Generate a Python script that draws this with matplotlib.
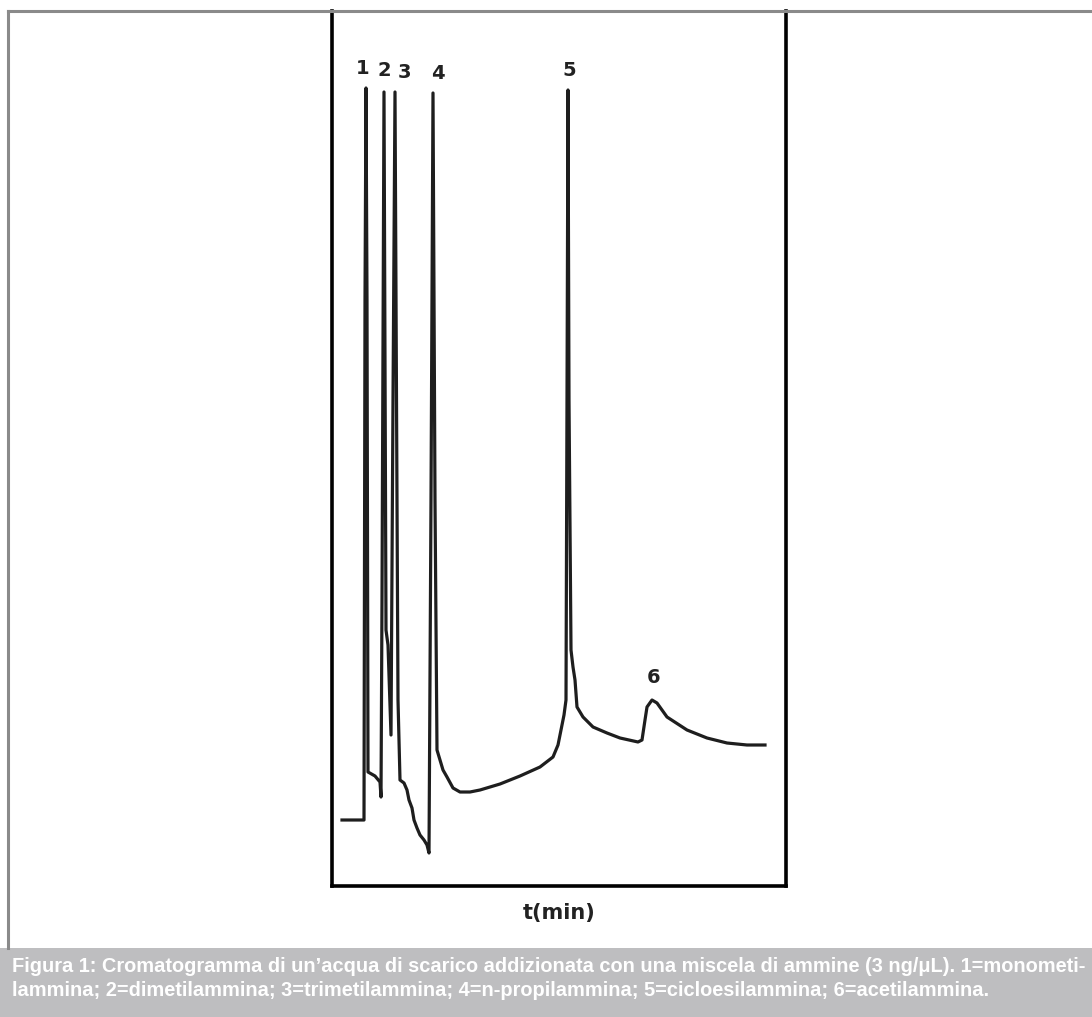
import matplotlib.pyplot as plt
from matplotlib.lines import Line2D
from matplotlib.patches import Rectangle

# chromatogram trace (time in min, detector signal in a.u.)
time = [1.0, 3.2, 3.3, 3.4, 3.5, 3.6, 4.3, 4.8, 4.9, 5.0, 5.2, 5.4, 5.6, 5.9,
        6.1, 6.3, 6.5, 6.6, 6.8, 7.2, 7.5, 7.7, 8.0, 8.2, 8.5, 8.8, 9.2, 9.5,
        9.7, 9.9, 10.1, 10.3, 10.5, 10.8, 11.1, 11.5, 12.1, 12.8, 13.8, 14.8,
        16.8, 18.8, 20.8, 22.1, 22.6, 22.9, 23.2, 23.4, 23.5, 23.6, 23.7,
        23.9, 24.1, 24.3, 24.5, 25.1, 26.1, 27.5, 28.8, 30.6, 31.0, 31.3,
        31.5, 32.0, 32.5, 33.5, 35.5, 37.5, 39.5, 41.5, 43.3]
signal = [66, 66, 586, 798, 586, 114, 110, 104, 89, 286, 794, 256, 241, 151,
          486, 794, 386, 186, 106, 103, 96, 86, 78, 66, 58, 51, 46, 41, 33,
          386, 793, 386, 136, 126, 116, 109, 98, 94, 94, 96, 102, 110, 119,
          129, 141, 156, 171, 186, 486, 796, 486, 236, 219, 206, 179, 169, 159,
          153, 148, 144, 146, 166, 179, 186, 183, 169, 156, 148, 143, 141, 141]

peak_ids = ['1', '2', '3', '4', '5', '6']
label_time = [3.1, 5.2, 7.2, 10.6, 23.7, 32.2]
label_sig = [808, 806, 804, 803, 806, 199]

caption_1 = ("Figura 1: Cromatogramma di un\u2019acqua di scarico addizionata con una miscela "
             "di ammine (3 ng/\u03bcL). 1=monometi-")
caption_2 = ("lammina; 2=dimetilammina; 3=trimetilammina; 4=n-propilammina; "
             "5=cicloesilammina; 6=acetilammina.")

fig = plt.figure(figsize=(10.92, 10.17), dpi=100)

# outer frame (top + left) and caption band
fig.add_artist(Line2D([8 / 1092, 1.0], [1 - 11 / 1017] * 2, color='#8a8a8a', lw=2.2))
fig.add_artist(Line2D([8 / 1092] * 2, [1 - 11 / 1017, 1 - 948 / 1017], color='#8a8a8a', lw=2.2))
fig.add_artist(Rectangle((0, 0), 1, 1 - 948 / 1017, transform=fig.transFigure,
                         color='#bebec0', lw=0))
cap1 = fig.text(12 / 1092, 1 - 966 / 1017, caption_1, color='white', fontsize=12,
                fontweight='bold', family=['Liberation Sans', 'DejaVu Sans'], va='center')
cap2 = fig.text(12 / 1092, 1 - 990 / 1017, caption_2, color='white', fontsize=12,
                fontweight='bold', family=['Liberation Sans', 'DejaVu Sans'], va='center')

# shrink caption so the first line spans the band like in the figure
fig.canvas.draw()
w = cap1.get_window_extent().width
size = 12 * 1070 / w
cap1.set_fontsize(size)
cap2.set_fontsize(size)

ax = fig.add_axes([332 / 1092, 1 - 886 / 1017, 454 / 1092, 875 / 1017])
ax.plot(time, signal, color='#1e1e1e', lw=2.3, solid_joinstyle='round')
ax.set_xlim(0, 45.4)
ax.set_ylim(0, 875)
ax.set_xticks([])
ax.set_yticks([])
for s in ax.spines.values():
    s.set_linewidth(2.6)
ax.spines['top'].set_visible(False)

for lab, t, y in zip(peak_ids, label_time, label_sig):
    ax.text(t, y, lab, ha='center', va='bottom', fontsize=14, fontweight='bold',
            color='#222222')

ax.set_xlabel('t(min)', fontsize=15, fontweight='bold', color='#222222', labelpad=12)

fig.savefig('out.png', dpi=100)
